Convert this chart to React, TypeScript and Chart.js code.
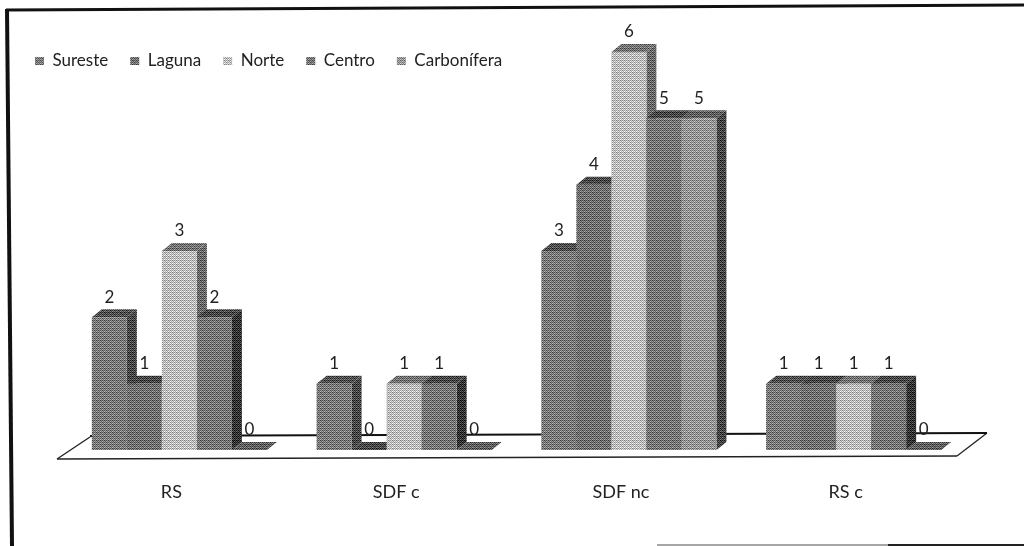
import React, { useEffect, useRef } from "react";
import { Chart, registerables } from "chart.js";

Chart.register(...registerables);

const categories = ["RS", "SDF c", "SDF nc", "RS c"];
const sureste = [2, 1, 3, 1];
const laguna = [1, 0, 4, 1];
const norte = [3, 1, 6, 1];
const centro = [2, 1, 5, 1];
const carbonifera = [0, 0, 5, 0];

const seriesNames = ["Sureste", "Laguna", "Norte", "Centro", "Carbonífera"];
const seriesValues = [sureste, laguna, norte, centro, carbonifera];
const frontGrays = [122, 112, 188, 118, 150];
const sideGrays = [72, 66, 105, 52, 70];
const topGrays = [80, 72, 115, 72, 95];

const bayer = [
  [0, 32, 8, 40, 2, 34, 10, 42],
  [48, 16, 56, 24, 50, 18, 58, 26],
  [12, 44, 4, 36, 14, 46, 6, 38],
  [60, 28, 52, 20, 62, 30, 54, 22],
  [3, 35, 11, 43, 1, 33, 9, 41],
  [51, 19, 59, 27, 49, 17, 57, 25],
  [15, 47, 7, 39, 13, 45, 5, 37],
  [63, 31, 55, 23, 61, 29, 53, 21],
];

const DEPTH_X = 10;
const DEPTH_Y = 8;
const FONT = "Lato, 'Open Sans', sans-serif";

function ditherTile(gray: number): CanvasPattern {
  const c = document.createElement("canvas");
  c.width = 8;
  c.height = 8;
  const g = c.getContext("2d") as CanvasRenderingContext2D;
  for (let y = 0; y < 8; y++) {
    for (let x = 0; x < 8; x++) {
      const v = Math.max(0, Math.min(255, Math.round(gray + (bayer[y][x] / 63 - 0.5) * 130)));
      g.fillStyle = `rgb(${v},${v},${v})`;
      g.fillRect(x, y, 1, 1);
    }
  }
  return g.createPattern(c, "repeat") as CanvasPattern;
}

function poly(ctx: CanvasRenderingContext2D, pts: number[][], fill: any) {
  ctx.beginPath();
  pts.forEach(([x, y], i) => (i ? ctx.lineTo(x, y) : ctx.moveTo(x, y)));
  ctx.closePath();
  ctx.fillStyle = fill;
  ctx.fill();
}

function seg(
  ctx: CanvasRenderingContext2D,
  x0: number,
  y0: number,
  x1: number,
  y1: number,
  w: number,
  c: string,
) {
  ctx.strokeStyle = c;
  ctx.lineWidth = w;
  ctx.beginPath();
  ctx.moveTo(x0, y0);
  ctx.lineTo(x1, y1);
  ctx.stroke();
}

const pagePlugin = {
  id: "page",
  beforeDraw(chart: any) {
    const { ctx, width, height } = chart;
    ctx.save();
    ctx.fillStyle = "#ffffff";
    ctx.fillRect(0, 0, width, height);
    seg(ctx, 6, 10, width, 5, 3, "#111111");
    seg(ctx, 7, 9, 12, height, 4, "#111111");
    seg(ctx, 657, height - 1, 888, height - 1, 1.5, "#888888");
    seg(ctx, 888, height - 1, width, height - 1, 2, "#222222");
    ctx.restore();
  },
};

const legendPlugin = {
  id: "legendPlace",
  afterLayout(chart: any) {
    const lg = chart.legend;
    lg.left = 13;
    lg.top = 30.5;
    lg.bottom = 90;
  },
};

const bar3dPlugin = {
  id: "bar3d",
  beforeDatasetsDraw(chart: any) {
    const { ctx, chartArea, scales } = chart;
    const base = scales.y.getPixelForValue(0);
    const sideFill = sideGrays.map(ditherTile);
    const topFill = topGrays.map(ditherTile);

    // floor
    const fl = chartArea.left - 10;
    const fr = chartArea.right - 9;
    ctx.save();
    seg(ctx, fl, base + 9, fr, base + 6, 1.3, "#222222");
    seg(ctx, fr, base + 6, fr + 30, base - 17, 1.3, "#222222");
    seg(ctx, fl, base + 9, fl + 33, base - 13, 1.3, "#222222");
    seg(ctx, fl + 33, base - 14, fr + 30, base - 17, 2, "#111111");

    // bars, left to right, so that later series hide earlier sides
    seriesValues.forEach((_, d) => {
      const meta = chart.getDatasetMeta(d);
      meta.data.forEach((bar: any) => {
        const { x, y, width } = bar.getProps(["x", "y", "width"], true);
        const l = x - width / 2;
        const r = x + width / 2;
        poly(
          ctx,
          [
            [r, y],
            [r + DEPTH_X, y - DEPTH_Y],
            [r + DEPTH_X, base - DEPTH_Y],
            [r, base],
          ],
          sideFill[d],
        );
        poly(
          ctx,
          [
            [l, y],
            [l + DEPTH_X, y - DEPTH_Y],
            [r + DEPTH_X, y - DEPTH_Y],
            [r, y],
          ],
          topFill[d],
        );
      });
      meta.controller.draw();
    });

    // value labels
    ctx.fillStyle = "#222222";
    ctx.font = `17px ${FONT}`;
    ctx.textAlign = "center";
    ctx.textBaseline = "middle";
    seriesValues.forEach((vals, d) => {
      const meta = chart.getDatasetMeta(d);
      meta.data.forEach((bar: any, i: number) => {
        ctx.fillText(String(vals[i]), bar.x, bar.y - 20);
      });
    });
    ctx.restore();
    return false;
  },
};

export default function App() {
  const ref = useRef<HTMLCanvasElement>(null);
  useEffect(() => {
    const frontFill = frontGrays.map(ditherTile);
    const chart = new Chart(ref.current as HTMLCanvasElement, {
      type: "bar",
      data: {
        labels: categories,
        datasets: seriesNames.map((name, d) => ({
          label: name,
          data: seriesValues[d],
          backgroundColor: frontFill[d],
          borderWidth: 0,
          barPercentage: 1,
          categoryPercentage: 0.779,
        })),
      },
      options: {
        animation: false,
        responsive: false,
        layout: { padding: { left: 67, right: 58, top: 3, bottom: 0 } },
        scales: {
          x: {
            grid: { display: false },
            border: { display: false },
            afterFit: (s: any) => {
              s.height = 96;
            },
            ticks: {
              labelOffset: -8,
              padding: 23,
              maxRotation: 0,
              autoSkip: false,
              color: "#222222",
              font: { family: FONT, size: 18 },
            },
          },
          y: { display: false, min: 0, max: 6 },
        },
        plugins: {
          title: { display: false },
          tooltip: { enabled: false },
          legend: {
            position: "top",
            align: "start",
            labels: {
              boxWidth: 9,
              boxHeight: 8,
              padding: 22,
              color: "#222222",
              font: { family: FONT, size: 17 },
            },
          },
        },
      },
      plugins: [pagePlugin, legendPlugin, bar3dPlugin],
    });
    return () => chart.destroy();
  }, []);
  return (
    <div style={{ position: "fixed", left: 0, top: 0 }}>
      <canvas ref={ref} width={1024} height={546} style={{ display: "block" }} />
    </div>
  );
}
